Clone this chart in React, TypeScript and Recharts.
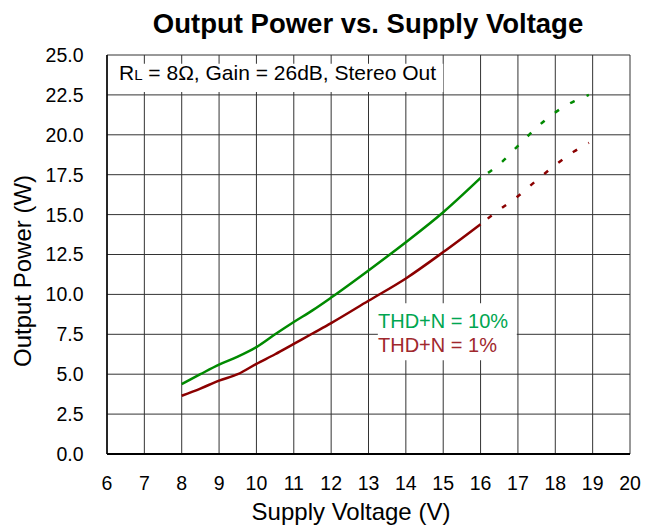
import { LineChart, Line, XAxis, YAxis, CartesianGrid, ReferenceArea } from 'recharts';

// Supply voltage (V) for the measured (solid) part and the extrapolated (dashed) part
const solidVolts = [8, 8.5, 9, 9.5, 10, 10.5, 11, 11.5, 12, 13, 14, 15, 16];
const thd10Solid = [4.38, 5.0, 5.6, 6.1, 6.7, 7.5, 8.27, 9.0, 9.8, 11.5, 13.27, 15.15, 17.3];
const thd1Solid = [3.65, 4.1, 4.6, 5.0, 5.65, 6.25, 6.9, 7.55, 8.2, 9.6, 11.0, 12.65, 14.4];

const extVolts = [16, 16.5, 17, 17.5, 18, 18.5, 18.9];
const thd10Ext = [17.3, 18.15, 19.3, 20.45, 21.4, 22.1, 22.5];
const thd1Ext = [14.4, 15.3, 16.15, 17.15, 18.1, 18.95, 19.5];

const xTicks = [6, 7, 8, 9, 10, 11, 12, 13, 14, 15, 16, 17, 18, 19, 20];
const yTicks = [0, 2.5, 5, 7.5, 10, 12.5, 15, 17.5, 20, 22.5, 25];

const W = 661;
const H = 527;
const FONT = '"Liberation Sans", Arial, sans-serif';
const GREEN = '#008a00';
const RED = '#8b0000';

const toPoints = (xs: number[], ys: number[]) => xs.map((v, i) => ({ v, p: ys[i] }));

export default function App() {
  const g10 = toPoints(solidVolts, thd10Solid);
  const g1 = toPoints(solidVolts, thd1Solid);
  const g10d = toPoints(extVolts, thd10Ext);
  const g1d = toPoints(extVolts, thd1Ext);

  return (
    <div style={{ position: 'absolute', left: 0, top: 0, width: W, height: H, background: '#fff' }}>
      <LineChart width={W} height={H} margin={{ top: 55, right: 31, left: 0, bottom: 0 }}>
        <CartesianGrid stroke="#333" strokeWidth={1} />
        <XAxis
          type="number"
          dataKey="v"
          domain={[6, 20]}
          ticks={xTicks}
          height={73}
          allowDataOverflow
          tickSize={0}
          tickMargin={22}
          axisLine={{ stroke: '#000', strokeWidth: 2 }}
          tick={{ fill: '#000', fontSize: 19.5, fontFamily: FONT }}
        />
        <YAxis
          type="number"
          dataKey="p"
          width={107}
          domain={[0, 25]}
          ticks={yTicks}
          tickFormatter={(v: number) => v.toFixed(1)}
          tickSize={0}
          tickMargin={23.5}
          axisLine={{ stroke: '#000', strokeWidth: 1.5 }}
          tick={{ fill: '#000', fontSize: 19.5, fontFamily: FONT }}
        />
        {/* white boxes behind the annotations */}
        <ReferenceArea x1={6.04} x2={15} y1={22.68} y2={24.45} fill="#fff" fillOpacity={1} strokeWidth={0} />
        <ReferenceArea x1={13.25} x2={16.97} y1={5.88} y2={9.44} fill="#fff" fillOpacity={1} strokeWidth={0} />
        <Line data={g10} dataKey="p" type="monotone" stroke={GREEN} strokeWidth={2.5} dot={false} isAnimationActive={false} />
        <Line data={g1} dataKey="p" type="monotone" stroke={RED} strokeWidth={2.5} dot={false} isAnimationActive={false} />
        <Line data={g10d} dataKey="p" type="monotone" stroke={GREEN} strokeWidth={2.5} strokeDasharray="0 9 5 4" dot={false} isAnimationActive={false} />
        <Line data={g1d} dataKey="p" type="monotone" stroke={RED} strokeWidth={2.5} strokeDasharray="0 9 5 4" dot={false} isAnimationActive={false} />
      </LineChart>
      <svg
        width={W}
        height={H}
        style={{ position: 'absolute', left: 0, top: 0, pointerEvents: 'none' }}
        fontFamily={FONT}
      >
        <text x={368} y={33} textAnchor="middle" fontSize={27.5} fontWeight="bold" fill="#000">
          Output Power vs. Supply Voltage
        </text>
        <text x={351} y={520} textAnchor="middle" fontSize={24} fill="#000">
          Supply Voltage (V)
        </text>
        <text x={31} y={271} textAnchor="middle" fontSize={24} fill="#000" transform="rotate(-90 31 271)">
          Output Power (W)
        </text>
        <text x={119} y={80} fontSize={21} fill="#000">
          R<tspan fontSize={15}>L</tspan> = 8Ω, Gain = 26dB, Stereo Out
        </text>
        <text x={378} y={328} fontSize={20} fill="#00a650">
          THD+N = 10%
        </text>
        <text x={378} y={352} fontSize={20} fill="#a0282d">
          THD+N = 1%
        </text>
      </svg>
    </div>
  );
}
